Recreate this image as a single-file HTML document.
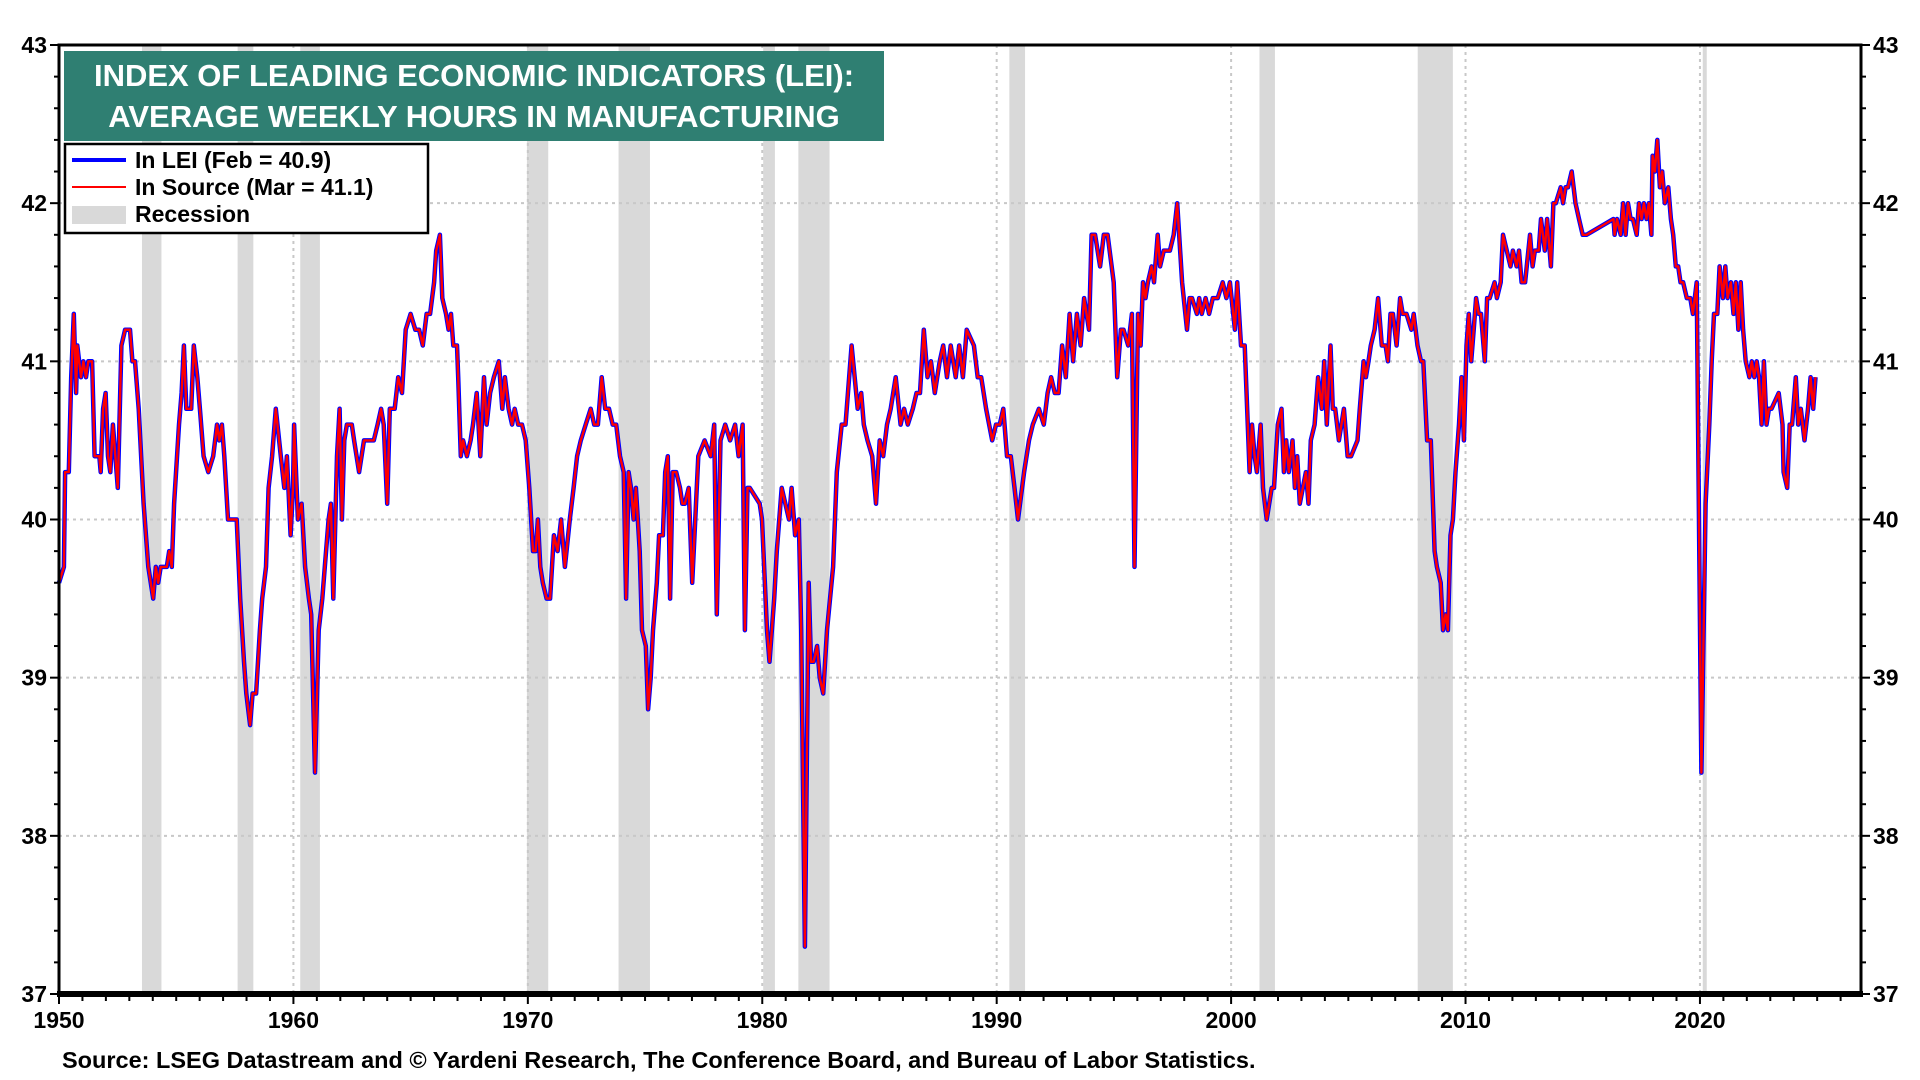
<!DOCTYPE html>
<html><head><meta charset="utf-8">
<style>
html,body{margin:0;padding:0;background:#fff;}
svg{display:block;font-family:"Liberation Sans",Arial,sans-serif;}
</style></head>
<body>
<svg id="chart" width="1920" height="1080" viewBox="0 0 1920 1080" xmlns="http://www.w3.org/2000/svg">
<g id="bands"></g>
<g id="grid"></g>
<g id="series"></g>
<g id="axes"></g>
<g>
<rect x="64" y="51" width="820" height="90" fill="#2f7f72"/>
<text x="474" y="86" text-anchor="middle" fill="#fff" font-size="31" font-weight="bold">INDEX OF LEADING ECONOMIC INDICATORS (LEI):</text>
<text x="474" y="127" text-anchor="middle" fill="#fff" font-size="31" font-weight="bold">AVERAGE WEEKLY HOURS IN MANUFACTURING</text>
</g>
<g>
<rect x="65" y="144" width="363" height="89" fill="#fff" stroke="#000" stroke-width="2.5"/>
<g><line x1="72" y1="160" x2="126" y2="160" stroke="#0000ff" stroke-width="4"/><text x="135" y="168" font-size="23" font-weight="bold">In LEI (Feb = 40.9)</text></g>
<g><line x1="72" y1="187" x2="126" y2="187" stroke="#ff0000" stroke-width="2"/><text x="135" y="195" font-size="23" font-weight="bold">In Source (Mar = 41.1)</text></g>
<g><rect x="72" y="206" width="54" height="18" fill="#d9d9d9"/><text x="135" y="222" font-size="23" font-weight="bold">Recession</text></g>
</g>
<text x="62" y="1068" font-size="23.5" font-weight="bold">Source: LSEG Datastream and © Yardeni Research, The Conference Board, and Bureau of Labor Statistics.</text>
</svg>
<script>
const recStart=[1953.54,1957.62,1960.29,1969.96,1973.87,1980.04,1981.54,1990.54,2001.21,2007.96,2020.12];
const recEnd=[1954.37,1958.29,1961.13,1970.87,1975.21,1980.54,1982.87,1991.21,2001.87,2009.46,2020.29];
const yTicks=[37,38,39,40,41,42,43];
const xTicks=[1950,1960,1970,1980,1990,2000,2010,2020];
const dates=[1950.00,1950.21,1950.26,1950.42,1950.52,1950.63,1950.73,1950.78,1950.94,1951.04,1951.15,1951.25,1951.41,1951.52,1951.72,1951.78,1951.88,1951.99,1952.09,1952.19,1952.30,1952.51,1952.66,1952.82,1953.03,1953.13,1953.24,1953.40,1953.61,1953.81,1954.02,1954.13,1954.23,1954.34,1954.60,1954.70,1954.81,1954.91,1955.12,1955.23,1955.33,1955.43,1955.64,1955.75,1955.90,1956.01,1956.17,1956.37,1956.58,1956.74,1956.84,1956.95,1957.05,1957.21,1957.58,1957.73,1957.89,1957.99,1958.15,1958.26,1958.41,1958.57,1958.67,1958.83,1958.94,1959.09,1959.25,1959.46,1959.61,1959.72,1959.88,1959.98,1960.03,1960.19,1960.35,1960.50,1960.66,1960.76,1960.92,1961.08,1961.23,1961.34,1961.50,1961.60,1961.70,1961.86,1961.97,1962.07,1962.17,1962.28,1962.49,1962.59,1962.80,1963.01,1963.43,1963.59,1963.74,1963.85,1964.00,1964.11,1964.32,1964.47,1964.63,1964.79,1965.00,1965.20,1965.36,1965.52,1965.68,1965.83,1966.00,1966.09,1966.25,1966.35,1966.51,1966.62,1966.72,1966.82,1966.98,1967.03,1967.14,1967.24,1967.40,1967.56,1967.66,1967.82,1967.97,1968.13,1968.24,1968.39,1968.55,1968.76,1968.91,1969.02,1969.18,1969.33,1969.44,1969.59,1969.75,1969.91,1970.06,1970.22,1970.33,1970.43,1970.53,1970.64,1970.80,1970.95,1971.11,1971.27,1971.42,1971.58,1971.79,1971.95,1972.10,1972.26,1972.47,1972.68,1972.83,1972.99,1973.15,1973.30,1973.46,1973.62,1973.77,1973.93,1974.09,1974.19,1974.30,1974.40,1974.51,1974.61,1974.77,1974.87,1975.03,1975.13,1975.24,1975.34,1975.50,1975.60,1975.76,1975.86,1975.97,1976.07,1976.18,1976.33,1976.49,1976.59,1976.70,1976.86,1977.01,1977.27,1977.54,1977.80,1977.95,1978.06,1978.22,1978.42,1978.63,1978.84,1978.99,1979.16,1979.26,1979.37,1979.47,1979.89,1979.99,1980.20,1980.31,1980.51,1980.62,1980.83,1981.14,1981.25,1981.40,1981.56,1981.66,1981.82,1981.98,1982.08,1982.19,1982.34,1982.45,1982.60,1982.76,1983.02,1983.18,1983.39,1983.55,1983.81,1984.07,1984.22,1984.33,1984.49,1984.69,1984.85,1985.01,1985.16,1985.32,1985.48,1985.69,1985.90,1986.05,1986.21,1986.42,1986.58,1986.73,1986.89,1987.05,1987.20,1987.36,1987.57,1987.72,1987.88,1988.04,1988.25,1988.40,1988.56,1988.72,1989.03,1989.19,1989.34,1989.55,1989.81,1989.97,1990.13,1990.28,1990.44,1990.60,1990.76,1990.91,1991.17,1991.38,1991.54,1991.80,1992.01,1992.17,1992.32,1992.48,1992.64,1992.79,1992.95,1993.11,1993.26,1993.42,1993.58,1993.73,1993.94,1994.05,1994.20,1994.41,1994.57,1994.73,1994.99,1995.14,1995.30,1995.41,1995.61,1995.77,1995.88,1996.03,1996.14,1996.24,1996.35,1996.45,1996.61,1996.71,1996.87,1996.97,1997.13,1997.39,1997.55,1997.70,1997.91,1998.12,1998.23,1998.33,1998.54,1998.64,1998.75,1998.91,1999.06,1999.22,1999.43,1999.64,1999.80,1999.95,2000.16,2000.26,2000.42,2000.58,2000.79,2000.89,2001.00,2001.10,2001.26,2001.36,2001.52,2001.73,2001.83,2001.99,2002.15,2002.25,2002.35,2002.46,2002.62,2002.72,2002.82,2002.93,2003.19,2003.30,2003.40,2003.56,2003.71,2003.87,2003.97,2004.08,2004.24,2004.34,2004.44,2004.60,2004.81,2004.97,2005.12,2005.39,2005.49,2005.65,2005.75,2005.86,2005.96,2006.12,2006.27,2006.43,2006.59,2006.69,2006.80,2006.90,2007.06,2007.21,2007.32,2007.48,2007.69,2007.79,2007.95,2008.10,2008.20,2008.36,2008.52,2008.68,2008.78,2008.94,2009.04,2009.15,2009.25,2009.36,2009.46,2009.57,2009.72,2009.83,2009.93,2010.04,2010.14,2010.24,2010.35,2010.45,2010.56,2010.66,2010.82,2010.92,2011.03,2011.24,2011.34,2011.50,2011.60,2011.92,2012.02,2012.18,2012.28,2012.39,2012.54,2012.75,2012.86,2012.96,2013.12,2013.22,2013.38,2013.48,2013.64,2013.75,2013.85,2014.06,2014.16,2014.27,2014.37,2014.53,2014.69,2014.84,2015.00,2015.16,2016.31,2016.36,2016.46,2016.62,2016.72,2016.83,2016.93,2017.04,2017.14,2017.30,2017.40,2017.51,2017.61,2017.72,2017.82,2017.93,2017.98,2018.08,2018.18,2018.29,2018.39,2018.50,2018.65,2018.76,2018.86,2018.97,2019.07,2019.17,2019.28,2019.44,2019.59,2019.70,2019.86,2020.06,2020.24,2020.40,2020.50,2020.60,2020.74,2020.84,2020.98,2021.08,2021.18,2021.32,2021.43,2021.53,2021.64,2021.74,2021.84,2021.95,2022.11,2022.21,2022.32,2022.42,2022.52,2022.63,2022.73,2022.84,2022.94,2023.05,2023.36,2023.52,2023.57,2023.72,2023.83,2023.93,2024.09,2024.19,2024.30,2024.46,2024.61,2024.72,2024.83,2024.93,2025.03];
const lei=[39.6,39.7,40.3,40.3,40.9,41.3,40.8,41.1,40.9,41.0,40.9,41.0,41.0,40.4,40.4,40.3,40.7,40.8,40.4,40.3,40.6,40.2,41.1,41.2,41.2,41.0,41.0,40.7,40.1,39.7,39.5,39.7,39.6,39.7,39.7,39.8,39.7,40.1,40.6,40.8,41.1,40.7,40.7,41.1,40.9,40.7,40.4,40.3,40.4,40.6,40.5,40.6,40.4,40.0,40.0,39.5,39.1,38.9,38.7,38.9,38.9,39.3,39.5,39.7,40.2,40.4,40.7,40.4,40.2,40.4,39.9,40.2,40.6,40.0,40.1,39.7,39.5,39.4,38.4,39.3,39.5,39.7,40.0,40.1,39.5,40.4,40.7,40.0,40.5,40.6,40.6,40.5,40.3,40.5,40.5,40.6,40.7,40.6,40.1,40.7,40.7,40.9,40.8,41.2,41.3,41.2,41.2,41.1,41.3,41.3,41.5,41.7,41.8,41.4,41.3,41.2,41.3,41.1,41.1,40.9,40.4,40.5,40.4,40.5,40.6,40.8,40.4,40.9,40.6,40.8,40.9,41.0,40.7,40.9,40.7,40.6,40.7,40.6,40.6,40.5,40.2,39.8,39.8,40.0,39.7,39.6,39.5,39.5,39.9,39.8,40.0,39.7,40.0,40.2,40.4,40.5,40.6,40.7,40.6,40.6,40.9,40.7,40.7,40.6,40.6,40.4,40.3,39.5,40.3,40.2,40.0,40.2,39.8,39.3,39.2,38.8,39.0,39.3,39.6,39.9,39.9,40.3,40.4,39.5,40.3,40.3,40.2,40.1,40.1,40.2,39.6,40.4,40.5,40.4,40.6,39.4,40.5,40.6,40.5,40.6,40.4,40.6,39.3,40.2,40.2,40.1,40.0,39.3,39.1,39.5,39.8,40.2,40.0,40.2,39.9,40.0,39.3,37.3,39.6,39.1,39.1,39.2,39.0,38.9,39.3,39.7,40.3,40.6,40.6,41.1,40.7,40.8,40.6,40.5,40.4,40.1,40.5,40.4,40.6,40.7,40.9,40.6,40.7,40.6,40.7,40.8,40.8,41.2,40.9,41.0,40.8,41.0,41.1,40.9,41.1,40.9,41.1,40.9,41.2,41.1,40.9,40.9,40.7,40.5,40.6,40.6,40.7,40.4,40.4,40.2,40.0,40.3,40.5,40.6,40.7,40.6,40.8,40.9,40.8,40.8,41.1,40.9,41.3,41.0,41.3,41.1,41.4,41.2,41.8,41.8,41.6,41.8,41.8,41.5,40.9,41.2,41.2,41.1,41.3,39.7,41.3,41.1,41.5,41.4,41.5,41.6,41.5,41.8,41.6,41.7,41.7,41.8,42.0,41.5,41.2,41.4,41.4,41.3,41.4,41.3,41.4,41.3,41.4,41.4,41.5,41.4,41.5,41.2,41.5,41.1,41.1,40.3,40.6,40.4,40.3,40.6,40.2,40.0,40.2,40.2,40.6,40.7,40.3,40.5,40.3,40.5,40.2,40.4,40.1,40.3,40.1,40.5,40.6,40.9,40.7,41.0,40.6,41.1,40.7,40.7,40.5,40.7,40.4,40.4,40.5,40.7,41.0,40.9,41.0,41.1,41.2,41.4,41.1,41.1,41.0,41.3,41.3,41.1,41.4,41.3,41.3,41.2,41.3,41.1,41.0,41.0,40.5,40.5,39.8,39.7,39.6,39.3,39.4,39.3,39.9,40.0,40.3,40.6,40.9,40.5,41.1,41.3,41.0,41.2,41.4,41.3,41.3,41.0,41.4,41.4,41.5,41.4,41.5,41.8,41.6,41.7,41.6,41.7,41.5,41.5,41.8,41.6,41.7,41.7,41.9,41.7,41.9,41.6,42.0,42.0,42.1,42.0,42.1,42.1,42.2,42.0,41.9,41.8,41.8,41.9,41.8,41.9,41.8,42.0,41.8,42.0,41.9,41.9,41.8,42.0,41.9,42.0,41.9,42.0,41.8,42.3,42.2,42.4,42.1,42.2,42.0,42.1,41.9,41.8,41.6,41.6,41.5,41.5,41.4,41.4,41.3,41.5,38.4,40.1,40.6,41.0,41.3,41.3,41.6,41.4,41.6,41.4,41.5,41.3,41.5,41.2,41.5,41.2,41.0,40.9,41.0,40.9,41.0,40.9,40.6,41.0,40.6,40.7,40.7,40.8,40.6,40.3,40.2,40.6,40.6,40.9,40.6,40.7,40.5,40.7,40.9,40.7,40.9];
const srcDates=[2025.14];
const srcVals=[41.1];

const L=59,R=1861,T=45,B=994,X0=1950,X1=2026.87,Y0=37,Y1=43;
const xs=v=>L+(v-X0)/(X1-X0)*(R-L);
const ys=v=>B-(v-Y0)/(Y1-Y0)*(B-T);
const NS="http://www.w3.org/2000/svg";
function mk(tag,attrs,parent){const e=document.createElementNS(NS,tag);for(const k in attrs)e.setAttribute(k,attrs[k]);parent.appendChild(e);return e;}
const bands=document.getElementById('bands'),grid=document.getElementById('grid'),series=document.getElementById('series'),axes=document.getElementById('axes');

recStart.forEach((s,i)=>{
  const r=mk('rect',{x:xs(s),y:T,width:Math.max(3,xs(recEnd[i])-xs(s)),height:B-T,fill:'#d9d9d9'},bands);
  
  
});
yTicks.forEach(v=>{
  if(v>Y0&&v<Y1){const g=mk('line',{x1:L,x2:R,y1:ys(v),y2:ys(v),stroke:'#c8c8c8','stroke-width':2,'stroke-dasharray':'3,4'},grid);
  
  }
});
xTicks.forEach(v=>{
  if(v>X0){const g=mk('line',{x1:xs(v),x2:xs(v),y1:T,y2:B,stroke:'#c8c8c8','stroke-width':2,'stroke-dasharray':'3,4'},grid);
  
  }
});

let d='';dates.forEach((t,i)=>{d+=(i?'L':'M')+xs(t).toFixed(1)+','+ys(lei[i]).toFixed(1);});
const blue=mk('path',{d:d,fill:'none',stroke:'#0000ff','stroke-width':4.5,'stroke-linejoin':'round'},series);


let d2=d;srcDates.forEach((t,i)=>{d2+='L'+xs(t).toFixed(1)+','+ys(srcVals[i]).toFixed(1);});
const red=mk('path',{d:d2,fill:'none',stroke:'#ff0000','stroke-width':2.4,'stroke-linejoin':'round'},series);



const frame=mk('rect',{x:L,y:T,width:R-L,height:B-T,fill:'none',stroke:'#000','stroke-width':3},axes);


const bot=mk('line',{x1:L-2,x2:R+2,y1:B,y2:B,stroke:'#000','stroke-width':6},axes);


for(let v=Y0;v<=Y1+1e-6;v+=0.2){
  const major=Math.abs(v-Math.round(v))<1e-6;const len=major?9:5;
  mk('line',{x1:L-len,x2:L,y1:ys(v),y2:ys(v),stroke:'#000','stroke-width':2},axes);
  mk('line',{x1:R,x2:R+len,y1:ys(v),y2:ys(v),stroke:'#000','stroke-width':2},axes);
}
yTicks.forEach(v=>{
  const a=mk('text',{x:L-12,y:ys(v)+8,'text-anchor':'end','font-size':23,'font-weight':'bold'},axes);a.textContent=v;
  
  
  const b=mk('text',{x:R+12,y:ys(v)+8,'text-anchor':'start','font-size':23,'font-weight':'bold'},axes);b.textContent=v;
  
  
});
for(let y=1950;y<=2026;y++){
  mk('line',{x1:xs(y),x2:xs(y),y1:B,y2:B+(y%10===0?10:7),stroke:'#000','stroke-width':2},axes);
}
xTicks.forEach(v=>{
  const t=mk('text',{x:xs(v),y:1028,'text-anchor':'middle','font-size':23,'font-weight':'bold'},axes);t.textContent=v;
  
  
});
</script>
</body></html>
